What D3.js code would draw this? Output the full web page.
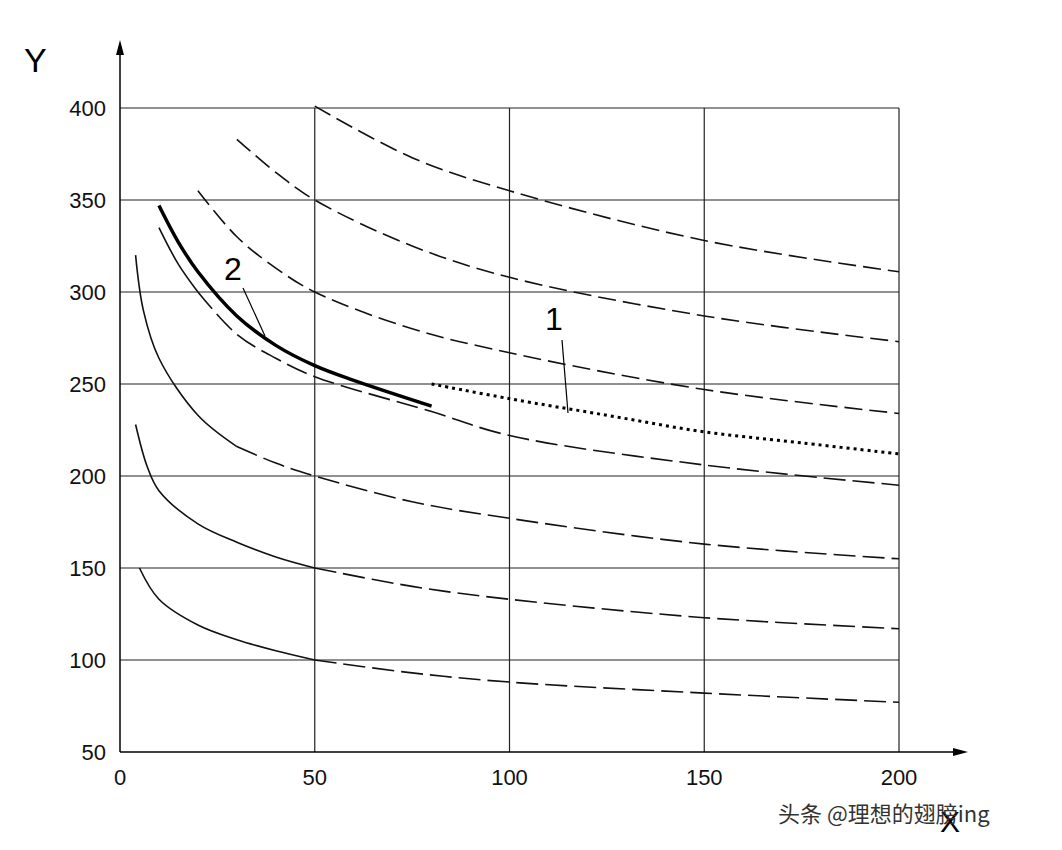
<!DOCTYPE html><html><head><meta charset="utf-8"><script src="https://cdn.jsdelivr.net/npm/d3@7"></script>
<style>body{margin:0;background:#fff}</style></head><body><svg id="c" width="1062" height="850"></svg>
<script>
const xTicks=[0,50,100,150,200];
const yTicks=[50,100,150,200,250,300,350,400];
const curveA=[[5,150],[10,133],[20,119],[30,111],[40,105],[50,100],[75,93],[100,88],[150,82],[200,77]];
const curveB=[[4,228],[7,205],[10,192],[20,174],[30,164],[40,156],[50,150],[75,140],[100,133],[150,123],[200,117]];
const curveC=[[4,320],[6,290],[10,264],[20,233],[30,216],[40,207],[50,200],[75,186],[100,177],[150,163],[200,155]];
const curveD=[[10,335],[15,315],[20,300],[30,277],[40,264],[50,254],[80,235],[100,222],[150,206],[200,195]];
const curveE=[[20,355],[30,330],[40,313],[50,300],[75,280],[100,267],[150,247],[200,234]];
const curveF=[[30,383],[40,365],[50,350],[75,325],[100,308],[150,287],[200,273]];
const curveG=[[50,401],[75,373],[100,355],[150,328],[200,311]];
const solidUntil=[50,50,30,20,0,0,0];
const curve2=[[10,347],[15,327],[20,311],[30,287],[40,271],[50,260],[60,252],[80,238]];
const curve1=[[80,250],[100,242],[125,233],[150,224],[175,218],[200,212]];
const labels=["1","2"];

const svg=d3.select("#c");
const x=d3.scaleLinear().domain([0,200]).range([120,899]);
const y=d3.scaleLinear().domain([50,400]).range([752,108]);
const g=svg.append("g");
xTicks.slice(1).forEach(v=>g.append("line").attr("x1",x(v)).attr("x2",x(v)).attr("y1",y(50)).attr("y2",y(400)).attr("stroke","#222").attr("stroke-width",1.2));
yTicks.slice(1).forEach(v=>g.append("line").attr("x1",x(0)).attr("x2",x(200)).attr("y1",y(v)).attr("y2",y(v)).attr("stroke","#222").attr("stroke-width",1.2));
svg.append("line").attr("x1",x(0)).attr("x2",x(0)).attr("y1",y(50)).attr("y2",48).attr("stroke","#000").attr("stroke-width",1.5);
svg.append("line").attr("x1",x(0)).attr("x2",958).attr("y1",y(50)).attr("y2",y(50)).attr("stroke","#000").attr("stroke-width",1.5);
svg.append("path").attr("d",`M${x(0)},40 L${x(0)-4},55 L${x(0)+4},55Z`);
svg.append("path").attr("d",`M968,${y(50)} L953,${y(50)-4} L953,${y(50)+4}Z`);
const f="Liberation Sans, Arial, sans-serif";
xTicks.forEach(v=>svg.append("text").attr("x",x(v)).attr("y",785).attr("text-anchor","middle").attr("font-family",f).attr("font-size",22).attr("fill","#111").text(v));
yTicks.forEach(v=>svg.append("text").attr("x",106).attr("y",y(v)+8).attr("text-anchor","end").attr("font-family",f).attr("font-size",22).attr("fill","#111").text(v));
svg.append("text").attr("x",24).attr("y",72).attr("font-family",f).attr("font-size",34).text("Y");
svg.append("text").attr("x",940).attr("y",832).attr("font-family",f).attr("font-size",30).text("X");
const line=d3.line().x(d=>x(d[0])).y(d=>y(d[1])).curve(d3.curveCatmullRom.alpha(0.5));
[curveA,curveB,curveC,curveD,curveE,curveF,curveG].forEach((c,i)=>{
  const s=solidUntil[i];
  if(s>0){
    svg.append("path").attr("d",line(c.filter(d=>d[0]<=s))).attr("fill","none").attr("stroke","#111").attr("stroke-width",1.6);
    svg.append("path").attr("d",line(c.filter(d=>d[0]>=s))).attr("fill","none").attr("stroke","#111").attr("stroke-width",1.6).attr("stroke-dasharray","22,7");
  } else {
    svg.append("path").attr("d",line(c)).attr("fill","none").attr("stroke","#111").attr("stroke-width",1.6).attr("stroke-dasharray","18,7");
  }
});
svg.append("path").attr("d",line(curve2)).attr("fill","none").attr("stroke","#000").attr("stroke-width",3.5);
svg.append("path").attr("d",line(curve1)).attr("fill","none").attr("stroke","#000").attr("stroke-width",3).attr("stroke-dasharray","3,4");
svg.append("text").attr("x",545).attr("y",330).attr("font-family",f).attr("font-size",32).text(labels[0]);
svg.append("line").attr("x1",562).attr("y1",340).attr("x2",568).attr("y2",413).attr("stroke","#000").attr("stroke-width",1.2);
svg.append("text").attr("x",224).attr("y",280).attr("font-family",f).attr("font-size",32).text(labels[1]);
svg.append("line").attr("x1",243).attr("y1",288).attr("x2",265).attr("y2",336).attr("stroke","#000").attr("stroke-width",1.2);
svg.append("text").attr("x",778).attr("y",822).attr("font-family","Noto Sans CJK SC").attr("font-size",22).attr("fill","#333").text("头条 @理想的翅膀ing");
</script></body></html>
